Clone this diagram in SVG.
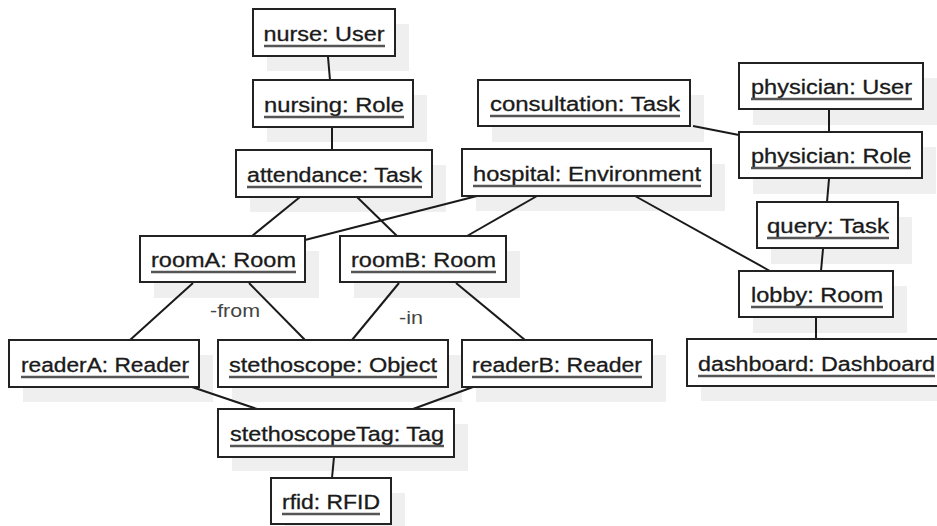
<svg xmlns="http://www.w3.org/2000/svg" width="937" height="526" viewBox="0 0 937 526">
<defs>
<style>
.sh{fill:#efefef;stroke:none}
.bx{fill:#ffffff;stroke:#222;stroke-width:2}
.t{font-family:"Liberation Sans",Arial,sans-serif;font-size:20px;fill:#1a1a1a;stroke:#1a1a1a;stroke-width:0.3;text-anchor:middle}
.u{stroke:#555;stroke-width:2.5}
.c{stroke:#1a1a1a;stroke-width:2;fill:none}
.lb{font-family:"Liberation Sans",Arial,sans-serif;font-size:19px;fill:#444}
</style>
</defs>
<rect width="937" height="526" fill="#ffffff"/>
<g id="shadows">
<rect class="sh" x="267" y="24" width="142" height="47"/>
<rect class="sh" x="267" y="95" width="160" height="47"/>
<rect class="sh" x="250" y="165" width="196" height="47"/>
<rect class="sh" x="492" y="95" width="212" height="47"/>
<rect class="sh" x="753" y="78" width="184" height="47"/>
<rect class="sh" x="753" y="147" width="183" height="47"/>
<rect class="sh" x="476" y="164" width="249" height="47"/>
<rect class="sh" x="154" y="251" width="165" height="47"/>
<rect class="sh" x="354" y="251" width="166" height="47"/>
<rect class="sh" x="771" y="217" width="141" height="47"/>
<rect class="sh" x="753" y="286" width="154" height="47"/>
<rect class="sh" x="23" y="355" width="190" height="47"/>
<rect class="sh" x="232" y="355" width="230" height="47"/>
<rect class="sh" x="476" y="355" width="190" height="47"/>
<rect class="sh" x="701" y="354" width="260" height="47"/>
<rect class="sh" x="232" y="424" width="236" height="47"/>
<rect class="sh" x="285" y="493" width="120" height="47"/>
</g>
<g id="connectors">
<line class="c" x1="328" y1="57" x2="330" y2="80"/>
<line class="c" x1="332" y1="127" x2="332" y2="150"/>
<line class="c" x1="300" y1="197" x2="252" y2="236"/>
<line class="c" x1="357" y1="197" x2="397" y2="236"/>
<line class="c" x1="477" y1="196" x2="305" y2="240"/>
<line class="c" x1="537" y1="196" x2="467" y2="236"/>
<line class="c" x1="635" y1="196" x2="770" y2="271"/>
<line class="c" x1="693" y1="126" x2="739" y2="135"/>
<line class="c" x1="829" y1="110" x2="829" y2="132"/>
<line class="c" x1="829" y1="179" x2="827" y2="202"/>
<line class="c" x1="823" y1="249" x2="821" y2="271"/>
<line class="c" x1="816" y1="318" x2="816" y2="339"/>
<line class="c" x1="193" y1="283" x2="130" y2="340"/>
<line class="c" x1="249" y1="283" x2="305" y2="340"/>
<line class="c" x1="399" y1="283" x2="352" y2="340"/>
<line class="c" x1="456" y1="283" x2="525" y2="340"/>
<line class="c" x1="192" y1="387" x2="257" y2="409"/>
<line class="c" x1="473" y1="387" x2="413" y2="409"/>
<line class="c" x1="334" y1="457" x2="332" y2="478"/>
<text class="lb" x="210" y="317" textLength="50" lengthAdjust="spacingAndGlyphs">-from</text>
<text class="lb" x="399" y="324" textLength="24" lengthAdjust="spacingAndGlyphs">-in</text>
</g>
<g id="nurse">
<rect class="bx" x="253" y="9" width="142" height="47"/>
<text class="t" x="324" y="41" textLength="121" lengthAdjust="spacingAndGlyphs">nurse: User</text>
<line class="u" x1="264" y1="46" x2="385" y2="46"/>
</g>
<g id="nursing">
<rect class="bx" x="253" y="80" width="160" height="47"/>
<text class="t" x="334" y="112" textLength="140" lengthAdjust="spacingAndGlyphs">nursing: Role</text>
<line class="u" x1="264" y1="117" x2="404" y2="117"/>
</g>
<g id="attendance">
<rect class="bx" x="236" y="150" width="196" height="47"/>
<text class="t" x="334.5" y="182" textLength="175" lengthAdjust="spacingAndGlyphs">attendance: Task</text>
<line class="u" x1="247" y1="187" x2="422" y2="187"/>
</g>
<g id="consultation">
<rect class="bx" x="478" y="80" width="212" height="46"/>
<text class="t" x="585" y="111" textLength="190" lengthAdjust="spacingAndGlyphs">consultation: Task</text>
<line class="u" x1="490" y1="116" x2="680" y2="116"/>
</g>
<g id="physicianUser">
<rect class="bx" x="739" y="63" width="184" height="46"/>
<text class="t" x="831.5" y="94" textLength="161" lengthAdjust="spacingAndGlyphs">physician: User</text>
<line class="u" x1="751" y1="99" x2="912" y2="99"/>
</g>
<g id="physicianRole">
<rect class="bx" x="739" y="132" width="183" height="46"/>
<text class="t" x="831" y="163" textLength="160" lengthAdjust="spacingAndGlyphs">physician: Role</text>
<line class="u" x1="751" y1="168" x2="911" y2="168"/>
</g>
<g id="hospital">
<rect class="bx" x="462" y="149" width="249" height="47"/>
<text class="t" x="587" y="181" textLength="228" lengthAdjust="spacingAndGlyphs">hospital: Environment</text>
<line class="u" x1="473" y1="186" x2="701" y2="186"/>
</g>
<g id="roomA">
<rect class="bx" x="140" y="236" width="165" height="46"/>
<text class="t" x="223.5" y="267" textLength="145" lengthAdjust="spacingAndGlyphs">roomA: Room</text>
<line class="u" x1="151" y1="272" x2="296" y2="272"/>
</g>
<g id="roomB">
<rect class="bx" x="340" y="236" width="166" height="46"/>
<text class="t" x="423.5" y="267" textLength="145" lengthAdjust="spacingAndGlyphs">roomB: Room</text>
<line class="u" x1="351" y1="272" x2="496" y2="272"/>
</g>
<g id="query">
<rect class="bx" x="757" y="202" width="141" height="46"/>
<text class="t" x="828" y="233" textLength="122" lengthAdjust="spacingAndGlyphs">query: Task</text>
<line class="u" x1="767" y1="238" x2="889" y2="238"/>
</g>
<g id="lobby">
<rect class="bx" x="739" y="271" width="154" height="46"/>
<text class="t" x="817" y="302" textLength="132" lengthAdjust="spacingAndGlyphs">lobby: Room</text>
<line class="u" x1="751" y1="307" x2="883" y2="307"/>
</g>
<g id="readerA">
<rect class="bx" x="9" y="340" width="190" height="47"/>
<text class="t" x="105" y="372" textLength="168" lengthAdjust="spacingAndGlyphs">readerA: Reader</text>
<line class="u" x1="21" y1="377" x2="189" y2="377"/>
</g>
<g id="stethoscope">
<rect class="bx" x="218" y="340" width="230" height="47"/>
<text class="t" x="333" y="372" textLength="208" lengthAdjust="spacingAndGlyphs">stethoscope: Object</text>
<line class="u" x1="229" y1="377" x2="437" y2="377"/>
</g>
<g id="readerB">
<rect class="bx" x="462" y="340" width="190" height="47"/>
<text class="t" x="557" y="372" textLength="170" lengthAdjust="spacingAndGlyphs">readerB: Reader</text>
<line class="u" x1="472" y1="377" x2="642" y2="377"/>
</g>
<g id="dashboard">
<rect class="bx" x="687" y="339" width="260" height="47"/>
<text class="t" x="816.5" y="371" textLength="237" lengthAdjust="spacingAndGlyphs">dashboard: Dashboard</text>
<line class="u" x1="698" y1="376" x2="935" y2="376"/>
</g>
<g id="stethoscopeTag">
<rect class="bx" x="218" y="409" width="236" height="48"/>
<text class="t" x="337" y="441" textLength="214" lengthAdjust="spacingAndGlyphs">stethoscopeTag: Tag</text>
<line class="u" x1="230" y1="446" x2="444" y2="446"/>
</g>
<g id="rfid">
<rect class="bx" x="271" y="478" width="120" height="46"/>
<text class="t" x="331" y="509" textLength="98" lengthAdjust="spacingAndGlyphs">rfid: RFID</text>
<line class="u" x1="282" y1="514" x2="380" y2="514"/>
</g>
</svg>
